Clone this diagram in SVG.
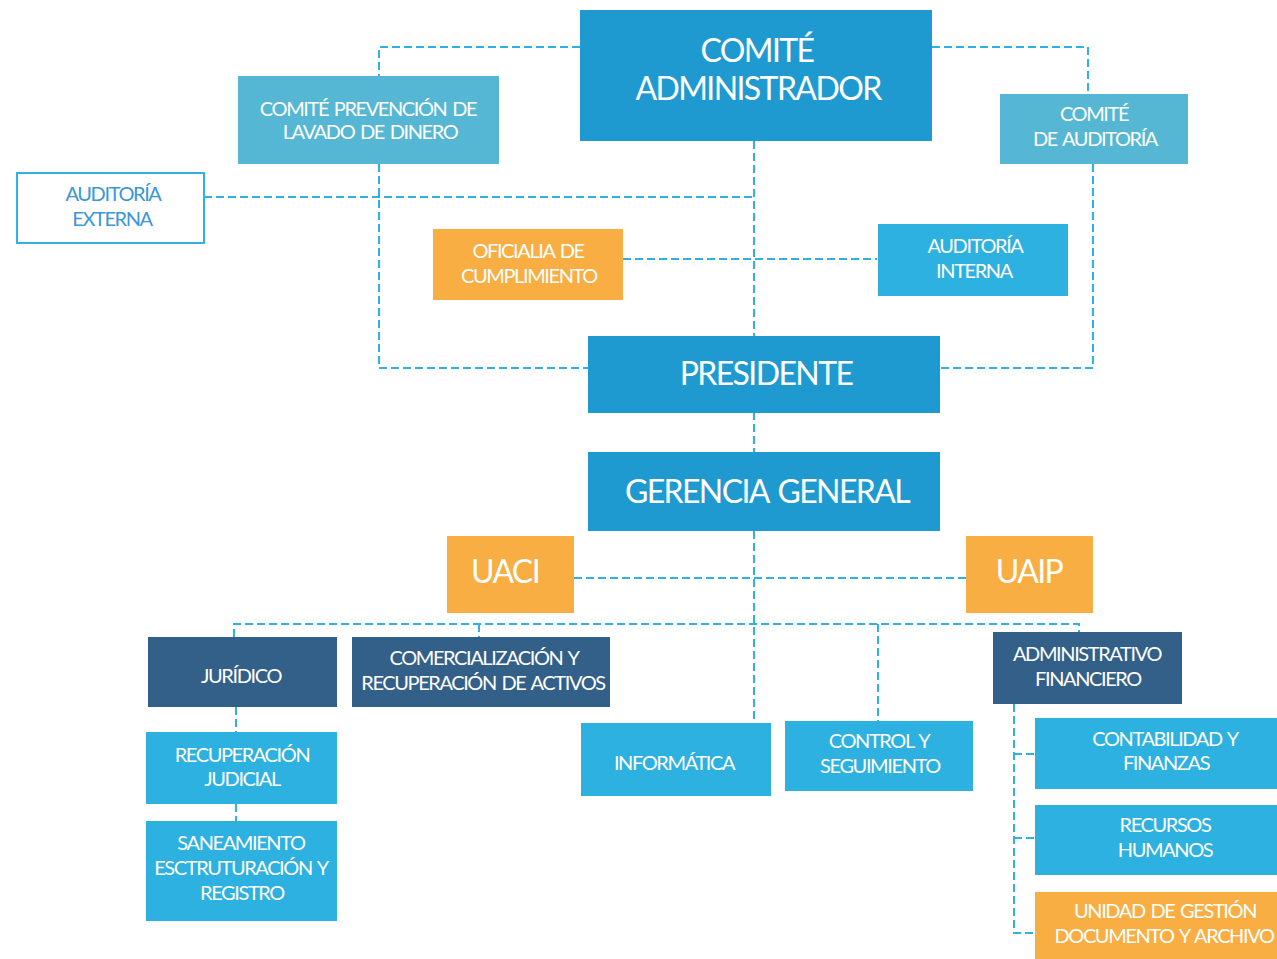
<svg xmlns="http://www.w3.org/2000/svg" width="1277" height="959" viewBox="0 0 1277 959">
<style>
.t{font-family:Lato,"Open Sans","Liberation Sans",sans-serif;fill:#fff;text-anchor:middle}
.s{font-size:20px;letter-spacing:-1.4px;word-spacing:2px}
.b{font-size:32px;letter-spacing:-1.6px;word-spacing:3px}
.c{fill:none;stroke:#2fb1e3;stroke-width:2;stroke-dasharray:8 4}
.mid{fill:#1f9ad0}
.teal{fill:#55b7d3}
.lb{fill:#2cb1e0}
.or{fill:#f8ae42}
.nv{fill:#336089}
</style>
<rect width="1277" height="959" fill="#fff"/>
<g id="connectors">
<path class="c" d="M580 47H379V76"/>
<path class="c" d="M379 164V368H588"/>
<path class="c" d="M932 47H1088V94"/>
<path class="c" d="M1093 164V368H940"/>
<path class="c" d="M754 141V336"/>
<path class="c" d="M204 197H754"/>
<path class="c" d="M623 259H877"/>
<path class="c" d="M754 412V452"/>
<path class="c" d="M754 531V723"/>
<path class="c" d="M574 578H966"/>
<path class="c" d="M234 637V624H1079V632"/>
<path class="c" d="M479 624V637"/>
<path class="c" d="M878 624V721"/>
<path class="c" d="M236 707V732"/>
<path class="c" d="M236 804V821"/>
<path class="c" d="M1014 704V933H1035M1014 754H1035M1014 838H1035"/>
</g>
<g id="comite-administrador"><rect class="mid" x="580" y="10" width="352" height="131"/><text class="t b" x="757" y="62">COMITÉ</text><text class="t b" x="758" y="100">ADMINISTRADOR</text></g>
<g id="comite-prevencion"><rect class="teal" x="238" y="76" width="261" height="88"/><text class="t s" x="368" y="116">COMITÉ PREVENCIÓN DE</text><text class="t s" x="370" y="139">LAVADO DE DINERO</text></g>
<g id="comite-auditoria"><rect class="teal" x="1000" y="94" width="188" height="70"/><text class="t s" x="1094" y="121">COMITÉ</text><text class="t s" x="1095" y="146">DE AUDITORÍA</text></g>
<g id="auditoria-externa"><rect x="17" y="173" width="187" height="70" fill="#fff" stroke="#2fb1e3" stroke-width="2"/><text class="t s" x="113" y="201" style="fill:#3b97d5">AUDITORÍA</text><text class="t s" x="112" y="226" style="fill:#3b97d5">EXTERNA</text></g>
<g id="oficialia"><rect class="or" x="433" y="229" width="190" height="71"/><text class="t s" x="528" y="258">OFICIALIA DE</text><text class="t s" x="529" y="283">CUMPLIMIENTO</text></g>
<g id="auditoria-interna"><rect class="lb" x="878" y="224" width="190" height="72"/><text class="t s" x="975" y="253">AUDITORÍA</text><text class="t s" x="974" y="278">INTERNA</text></g>
<g id="presidente"><rect class="mid" x="588" y="336" width="352" height="77"/><text class="t b" x="766" y="385">PRESIDENTE</text></g>
<g id="gerencia-general"><rect class="mid" x="588" y="452" width="352" height="79"/><text class="t b" x="767" y="503">GERENCIA GENERAL</text></g>
<g id="uaci"><rect class="or" x="447" y="536" width="127" height="77"/><text class="t b" x="505" y="583">UACI</text></g>
<g id="uaip"><rect class="or" x="966" y="536" width="127" height="77"/><text class="t b" x="1029" y="583">UAIP</text></g>
<g id="juridico"><rect class="nv" x="148" y="637" width="189" height="70"/><text class="t s" x="241" y="683">JURÍDICO</text></g>
<g id="comercializacion"><rect class="nv" x="352" y="637" width="258" height="70"/><text class="t s" x="484" y="665">COMERCIALIZACIÓN Y</text><text class="t s" x="483" y="690">RECUPERACIÓN DE ACTIVOS</text></g>
<g id="recuperacion-judicial"><rect class="lb" x="146" y="732" width="191" height="72"/><text class="t s" x="242" y="762">RECUPERACIÓN</text><text class="t s" x="242" y="786">JUDICIAL</text></g>
<g id="saneamiento"><rect class="lb" x="146" y="821" width="191" height="100"/><text class="t s" x="241" y="850">SANEAMIENTO</text><text class="t s" x="241" y="875">ESCTRUTURACIÓN Y</text><text class="t s" x="242" y="900">REGISTRO</text></g>
<g id="informatica"><rect class="lb" x="581" y="723" width="190" height="73"/><text class="t s" x="674" y="770">INFORMÁTICA</text></g>
<g id="control-seguimiento"><rect class="lb" x="785" y="721" width="188" height="70"/><text class="t s" x="879" y="748">CONTROL Y</text><text class="t s" x="880" y="773">SEGUIMIENTO</text></g>
<g id="administrativo-financiero"><rect class="nv" x="993" y="632" width="189" height="72"/><text class="t s" x="1087" y="661">ADMINISTRATIVO</text><text class="t s" x="1088" y="686">FINANCIERO</text></g>
<g id="contabilidad"><rect class="lb" x="1035" y="718" width="242" height="71"/><text class="t s" x="1165" y="746">CONTABILIDAD Y</text><text class="t s" x="1166" y="770">FINANZAS</text></g>
<g id="recursos-humanos"><rect class="lb" x="1035" y="805" width="242" height="70"/><text class="t s" x="1165" y="832">RECURSOS</text><text class="t s" x="1165" y="857">HUMANOS</text></g>
<g id="unidad-gestion"><rect class="or" x="1035" y="892" width="242" height="67"/><text class="t s" x="1165" y="918">UNIDAD DE GESTIÓN</text><text class="t s" x="1164" y="943">DOCUMENTO Y ARCHIVO</text></g>
</svg>
